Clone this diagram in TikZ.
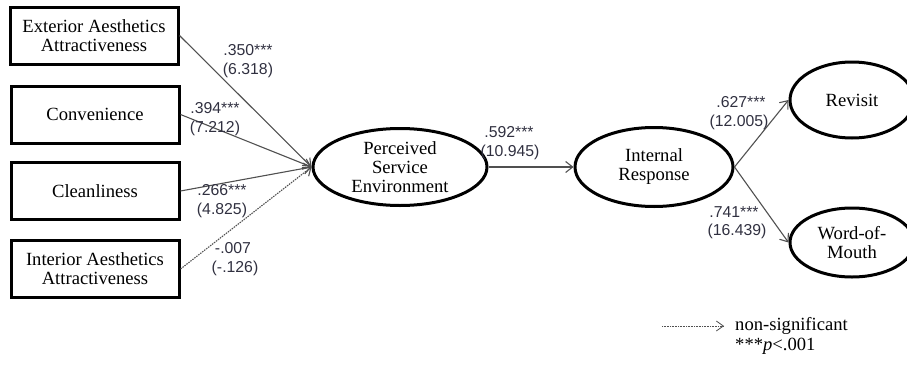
\documentclass[tikz,border=0pt]{standalone}
\usepackage{fontspec}
\setmainfont{Liberation Serif}
\newfontfamily\lblfont{Liberation Sans}
\usetikzlibrary{shapes.geometric,arrows.meta}
\definecolor{lblcol}{HTML}{303040}
\definecolor{linecol}{HTML}{505050}
\begin{document}
\begin{tikzpicture}[x=1pt,y=-1pt,
  boxnode/.style={draw, line width=3pt, minimum width=168pt, minimum height=57pt, inner sep=0pt, align=center, font=\fontsize{18.6}{19}\selectfont},
  ellnode/.style={draw, ellipse, line width=3pt, inner sep=0pt, align=center, font=\fontsize{18.6}{19}\selectfont},
  conn/.style={draw=linecol, line width=1.1pt, -{Straight Barb[length=7pt,width=11pt]}},
  nsconn/.style={conn, dash pattern=on 1.5pt off 1pt},
  lbl/.style={text=lblcol, font=\lblfont\fontsize{15.8}{16}\selectfont, inner sep=0pt}
]
\useasboundingbox (0,0) rectangle (907,364);
% boxes
\node[boxnode] (ext) at (94,35.5) {Exterior Aesthetics\\Attractiveness};
\node[boxnode] (con) at (95,114.5) {Convenience};
\node[boxnode] (cle) at (95,191) {Cleanliness};
\node[boxnode] (int) at (95,269) {Interior Aesthetics\\Attractiveness};
% ellipses
\node[ellnode, minimum width=174pt, minimum height=77pt] (pse) at (400,167) {Perceived\\Service\\Environment};
\node[ellnode, minimum width=158pt, minimum height=79pt] (ir) at (654,167) {Internal\\Response};
\node[ellnode, minimum width=124pt, minimum height=76pt] (rev) at (852,100) {Revisit};
\node[ellnode, minimum width=124pt, minimum height=69pt] (wom) at (852,242.5) {Word-of-\\Mouth};
% connectors
\draw[conn] (ext.east) -- (pse.west);
\draw[conn] (con.east) -- (pse.west);
\draw[conn] (cle.east) -- (pse.west);
\draw[nsconn] (int.east) -- (pse.west);
\draw[conn] (pse.east) -- (ir.west);
\draw[conn] (ir.east) -- (rev.west);
\draw[conn] (ir.east) -- (wom.west);
% labels
\node[lbl] (l1a) at (248,50) {.350***};
\node[lbl] (l1b) at (248,70) {(6.318)};
\node[lbl] (l2a) at (215,108) {.394***};
\node[lbl] (l2b) at (215,128) {(7.212)};
\node[lbl] (l3a) at (222,190) {.266***};
\node[lbl] (l3b) at (222,210) {(4.825)};
\node[lbl] (l4a) at (233,248) {-.007};
\node[lbl] (l4b) at (235,268) {(-.126)};
\node[lbl] (l5a) at (509,132) {.592***};
\node[lbl] (l5b) at (510,152) {(10.945)};
\node[lbl] (l6a) at (741,102) {.627***};
\node[lbl] (l6b) at (739,122) {(12.005)};
\node[lbl] (l7a) at (734,212) {.741***};
\node[lbl] (l7b) at (737,231) {(16.439)};
% legend
\coordinate (lgs) at (662,326);
\coordinate (lge) at (724,326);
\draw[draw=linecol, line width=0.8pt, dash pattern=on 0.8pt off 0.8pt, -{Straight Barb[length=7pt,width=10pt]}] (lgs) -- (lge);
\node[anchor=west, inner sep=0pt, font=\fontsize{18.6}{19}\selectfont] (lgt) at (735,326) {non-significant};
\node[anchor=west, inner sep=0pt, font=\fontsize{18.6}{19}\selectfont] (lgp) at (735,346) {***\textit{p}<.001};
\end{tikzpicture}
\end{document}
